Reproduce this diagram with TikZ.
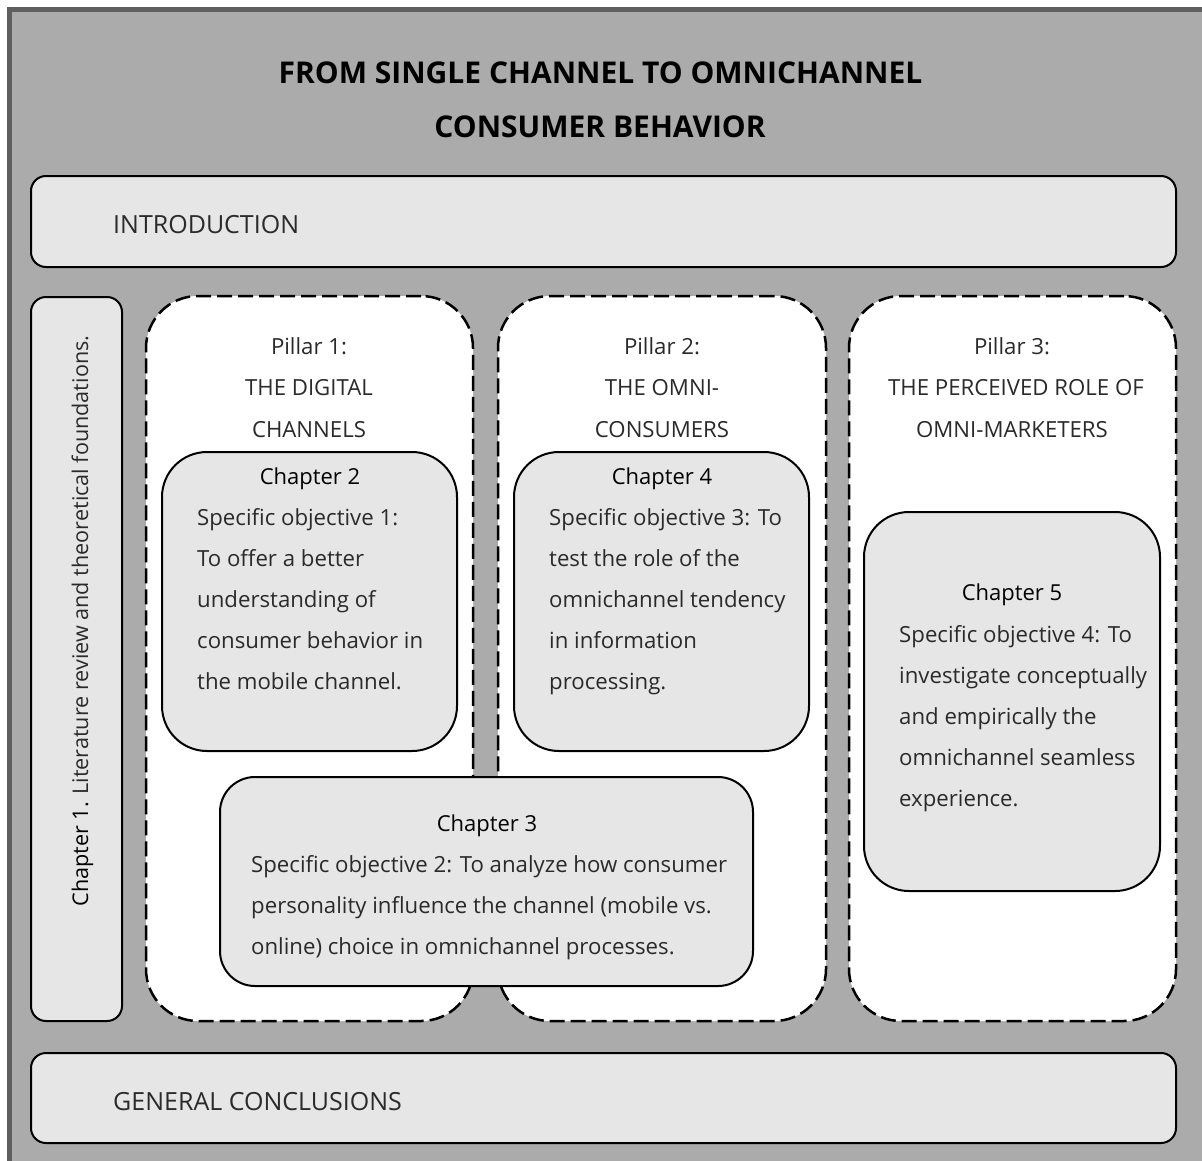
\documentclass[tikz,border=0pt]{standalone}
\usepackage{fontspec}
\setmainfont{Open Sans}
\definecolor{framegray}{HTML}{5F5F5F}
\definecolor{bggray}{HTML}{ABABAB}
\definecolor{boxgray}{HTML}{E6E6E6}
\definecolor{txtcol}{HTML}{2A2A2A}
\begin{document}
\begin{tikzpicture}[x=1pt,y=-1pt,
  box/.style={draw=black, line width=2pt, fill=boxgray, rounded corners=#1, inner sep=0pt},
  box/.default=15pt,
  pillar/.style={draw=black, line width=2.5pt, dash pattern=on 15pt off 6pt, fill=white, rounded corners=52pt, inner sep=0pt},
  txt/.style={anchor=base west, inner sep=0pt, text=txtcol, font=\fontsize{22.2}{26}\selectfont},
  ctxt/.style={txt, anchor=base},
  bigtxt/.style={txt, font=\fontsize{25}{30}\selectfont},
  head/.style={anchor=base, inner sep=0pt, text=black, font=\fontsize{22}{26}\selectfont},
  title/.style={anchor=base, inner sep=0pt, text=black, font=\fontsize{30}{34}\selectfont\bfseries}
]
\useasboundingbox (0,0) rectangle (1202,1160);
\fill[white] (0,0) rectangle (1202,1160);
\draw[line width=5pt, draw=framegray, fill=bggray] (9.5,9.5) rectangle (1215,1175);

% title
\node[title] (t1) at (600.5,83) {FROM SINGLE CHANNEL TO OMNICHANNEL};
\node[title] (t2) at (600,137) {CONSUMER BEHAVIOR};

% introduction / conclusions
\node[box, minimum width=1145pt, minimum height=91pt] (intro) at (603.5,221.5) {};
\node[bigtxt] (introtxt) at (113,233) {INTRODUCTION};
\node[box, minimum width=1145pt, minimum height=90pt] (concl) at (603.5,1098) {};
\node[bigtxt] (concltxt) at (113,1110) {GENERAL CONCLUSIONS};

% chapter 1
\node[box, minimum width=91pt, minimum height=724pt] (ch1) at (76.5,659) {};
\node[txt, anchor=base, rotate=90, font=\fontsize{21.6}{26}\selectfont] (ch1txt) at (88,621) {{\color{black}Chapter 1.} Literature review and theoretical foundations.};

% pillars
\node[pillar, minimum width=327pt, minimum height=725pt] (p1) at (309.5,658.5) {};
\node[pillar, minimum width=328pt, minimum height=725pt] (p2) at (662,658.5) {};
\node[pillar, minimum width=327pt, minimum height=725pt] (p3) at (1012.5,658.5) {};

\node[ctxt] (p1a) at (309,354) {Pillar 1:};
\node[ctxt] (p1b) at (309,395) {THE DIGITAL};
\node[ctxt] (p1c) at (309,437) {CHANNELS};
\node[ctxt] (p2a) at (662,354) {Pillar 2:};
\node[ctxt] (p2b) at (662,395) {THE OMNI-};
\node[ctxt] (p2c) at (662,437) {CONSUMERS};
\node[ctxt] (p3a) at (1012,354) {Pillar 3:};
\node[ctxt] (p3b) at (1016,395) {THE PERCEIVED ROLE OF};
\node[ctxt] (p3c) at (1012,437) {OMNI-MARKETERS};

% chapter 2
\node[box=45pt, minimum width=295pt, minimum height=299pt] (ch2) at (309.5,601.5) {};
\node[head] (ch2h) at (310,484) {Chapter 2};
\node[txt] (ch2a) at (197,525) {Specific objective 1:};
\node[txt] (ch2b) at (197,566) {To offer a better};
\node[txt] (ch2c) at (197,607) {understanding of};
\node[txt] (ch2d) at (197,648) {consumer behavior in};
\node[txt] (ch2e) at (197,689) {the mobile channel.};

% chapter 4
\node[box=45pt, minimum width=295pt, minimum height=299pt] (ch4) at (661.5,601.5) {};
\node[head] (ch4h) at (662,484) {Chapter 4};
\node[txt] (ch4a) at (549,525) {Specific objective 3: To};
\node[txt] (ch4b) at (549,566) {test the role of the};
\node[txt] (ch4c) at (549,607) {omnichannel tendency};
\node[txt] (ch4d) at (549,648) {in information};
\node[txt] (ch4e) at (549,689) {processing.};

% chapter 5
\node[box=45pt, minimum width=296pt, minimum height=379pt] (ch5) at (1012,701.5) {};
\node[head] (ch5h) at (1012,600) {Chapter 5};
\node[txt] (ch5a) at (899,642) {Specific objective 4: To};
\node[txt] (ch5b) at (899,683) {investigate conceptually};
\node[txt] (ch5c) at (899,724) {and empirically the};
\node[txt] (ch5d) at (899,765) {omnichannel seamless};
\node[txt] (ch5e) at (899,806) {experience.};

% chapter 3
\node[box=35pt, minimum width=533pt, minimum height=209pt] (ch3) at (486.5,881.5) {};
\node[head] (ch3h) at (487,831) {Chapter 3};
\node[txt] (ch3a) at (251,872) {Specific objective 2: To analyze how consumer};
\node[txt] (ch3b) at (251,913) {personality influence the channel (mobile vs.};
\node[txt] (ch3c) at (251,954) {online) choice in omnichannel processes.};
\end{tikzpicture}
\end{document}
